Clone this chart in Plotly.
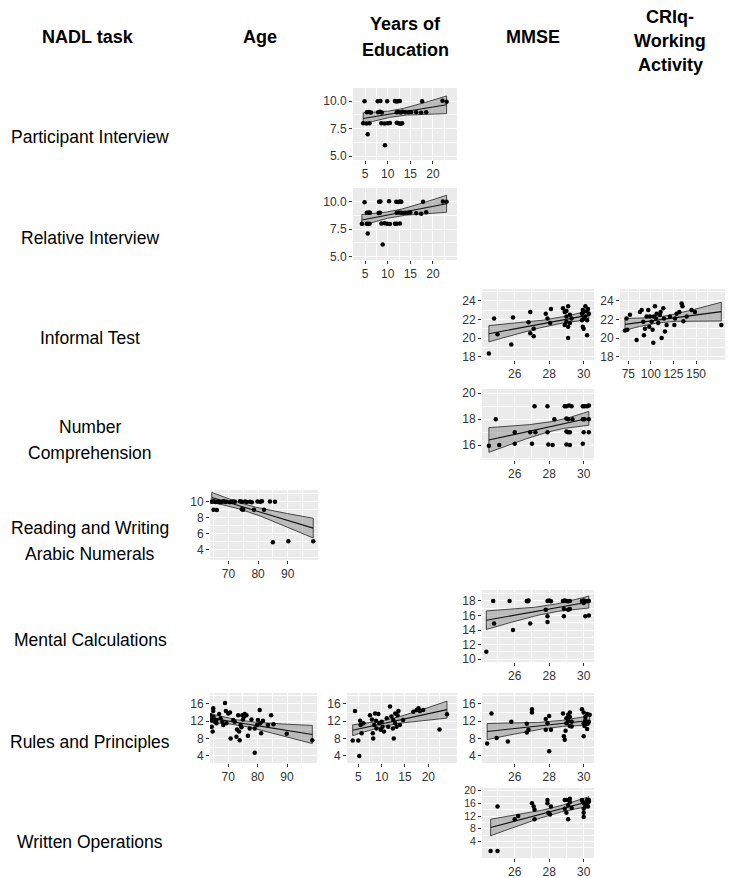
import numpy as np
import plotly.graph_objects as go

W, H = 733, 878
PAGE_OFFSET = 8  # default body margin of the html page

# Column headers and row labels
col_headers = ["NADL task", "Age", "Years of<br>Education", "MMSE", "CRIq-<br>Working<br>Activity"]
row_labels = ["Participant Interview", "Relative Interview", "Informal Test",
              "Number<br>Comprehension", "Reading and Writing<br>Arabic Numerals",
              "Mental Calculations", "Rules and Principles", "Written Operations"]

# Tick values
edu_ticks = [5, 10, 15, 20]
mmse_ticks = [26, 28, 30]
age_ticks = [70, 80, 90]
criq_ticks = [75, 100, 125, 150]

# Participant Interview vs Years of Education
part_edu_x = [4.9, 7.8, 8.4, 9.9, 11.6, 11.9, 12.3, 12.7, 17.6, 22.1, 23.0,
              5.4, 5.9, 6.3, 7.9, 8.3, 8.7, 12.0, 12.4, 12.9, 13.3, 13.9, 14.6, 15.2, 16.3, 17.4, 18.5,
              4.6, 5.3, 6.0, 8.6, 9.3, 10.0, 10.5, 12.0, 12.4, 12.8, 13.2,
              5.6, 9.4]
part_edu_y = [10.0, 10.0, 10.02, 10.0, 10.02, 9.98, 10.0, 10.02, 10.0, 10.05, 9.95,
              9.0, 9.02, 8.98, 9.0, 9.05, 8.98, 9.0, 9.02, 8.98, 9.05, 9.0, 9.0, 9.02, 9.0, 8.95, 9.0,
              8.0, 7.98, 8.0, 8.0, 7.98, 8.0, 8.02, 8.05, 8.0, 7.95, 8.0,
              7.0, 6.0]

# Relative Interview vs Years of Education
rel_edu_x = [4.9, 8.1, 8.4, 10.3, 11.9, 12.3, 12.7, 13.0, 17.8, 22.2, 23.0,
             5.4, 5.8, 6.1, 8.0, 8.3, 12.0, 12.5, 13.0, 13.4, 13.9, 14.5, 15.0, 16.3, 17.4, 18.5,
             4.3, 5.4, 5.7, 6.0, 8.6, 9.3, 9.9, 10.5, 11.6, 12.0, 12.7,
             5.6, 8.9]
rel_edu_y = [9.95, 10.0, 10.02, 10.05, 10.0, 9.98, 10.02, 10.0, 10.0, 10.02, 10.0,
             9.0, 9.02, 9.0, 8.98, 9.0, 9.0, 9.02, 9.0, 8.98, 9.0, 9.0, 9.02, 8.95, 8.9, 9.05,
             8.0, 8.0, 7.98, 8.0, 8.02, 8.05, 8.0, 7.98, 8.0, 8.0, 8.02,
             7.1, 6.1]

# Informal Test vs MMSE
inf_mmse_x = [24.5, 24.8, 25.0, 25.8, 25.9, 26.9, 26.8, 26.9, 27.1, 27.1, 27.8, 27.9, 28.05, 28.1,
              28.8, 28.9, 29.0, 29.0, 28.9, 29.1, 29.1, 29.1, 29.2, 29.3, 29.0, 29.2,
              29.9, 29.95, 30.0, 30.0, 29.95, 30.1, 30.2, 30.2, 30.25, 30.3, 30.1, 30.0, 29.9, 30.2]
inf_mmse_y = [18.35, 22.1, 20.4, 19.3, 22.2, 22.8, 21.7, 20.5, 20.2, 21.0, 22.6, 22.1, 21.6, 23.1,
              23.2, 22.8, 22.3, 21.75, 21.4, 21.2, 20.0, 23.4, 22.5, 22.1, 22.9, 21.6,
              22.6, 23.0, 22.1, 21.0, 21.2, 23.4, 21.9, 20.3, 23.1, 22.6, 22.3, 22.8, 21.9, 22.9]

# Informal Test vs CRIq - Working Activity
inf_criq_x = [71.3, 73.9, 73.0, 76.8, 84.2, 87.9, 89.8, 91.6, 92.3, 93.5, 95.3, 97.1, 98.2, 99.0,
              100.8, 101.9, 102.7, 103.4, 104.5, 105.6, 106.4, 108.2, 110.0, 110.8, 111.9, 113.7,
              114.5, 115.6, 117.4, 121.1, 126.0, 126.7, 128.5, 131.5, 134.0, 135.0, 136.0, 139.6,
              145.0, 148.8, 178.0]
inf_criq_y = [20.8, 20.9, 22.1, 22.5, 19.8, 22.8, 23.0, 21.75, 20.3, 21.0, 22.3, 23.0, 21.2, 22.3,
              21.75, 20.9, 19.5, 22.3, 23.4, 22.1, 22.6, 21.6, 22.5, 22.8, 20.0, 23.2,
              22.1, 20.7, 21.4, 22.3, 21.4, 22.1, 22.6, 22.8, 23.7, 23.4, 21.8, 22.3,
              23.0, 22.8, 21.4]

# Number Comprehension vs MMSE
num_mmse_x = [24.5, 24.9, 25.1, 26.0, 26.0, 26.9, 27.0, 27.15, 27.2, 27.9, 27.9, 27.95, 28.2, 28.3,
              28.9, 29.0, 29.15, 29.3, 29.0, 29.1, 29.0, 29.1, 29.2, 29.0, 29.2, 29.35,
              29.95, 30.05, 30.2, 30.3, 29.95, 30.05, 30.0, 29.95, 30.3, 30.3]
num_mmse_y = [15.95, 18.0, 16.0, 17.0, 16.1, 17.0, 16.1, 19.0, 17.0, 19.0, 17.0, 16.05, 16.0, 18.0,
              19.0, 19.0, 19.05, 19.0, 18.05, 18.0, 17.05, 17.0, 17.0, 16.05, 16.0, 18.0,
              19.0, 19.0, 19.0, 19.05, 18.0, 18.0, 17.0, 16.1, 18.0, 17.0]

# Reading and Writing Arabic Numerals vs Age
read_age_x = [64.4, 65.0, 65.6, 66.2, 66.7, 67.2, 67.8, 68.4, 69.0, 69.4, 70.5, 71.1, 71.7, 72.2,
              73.9, 74.5, 75.6, 76.2, 77.3, 77.9, 79.8, 80.7, 81.3, 84.0, 85.7,
              65.0, 66.1, 74.5, 75.0, 78.6, 82.0, 85.0, 90.2, 98.6]
read_age_y = [10.0, 10.05, 9.98, 10.0, 10.02, 9.95, 10.0, 10.05, 9.98, 10.0, 9.95, 10.0, 10.02, 10.0,
              10.05, 10.0, 10.02, 9.98, 10.0, 9.95, 10.02, 10.0, 10.05, 10.02, 10.0,
              9.0, 8.95, 9.05, 8.98, 9.0, 9.0, 4.9, 5.0, 5.0]

# Mental Calculations vs MMSE
ment_mmse_x = [24.35, 24.8, 24.75, 25.7, 25.9, 26.7, 26.75, 26.8, 26.9, 27.8, 27.9, 27.9,
               27.9, 28.0, 28.1, 28.8, 28.9, 29.0, 29.1, 29.2, 28.85, 28.85, 29.1, 29.2,
               29.9, 30.0, 30.1, 30.2, 30.3, 30.1, 30.3, 30.0]
ment_mmse_y = [11.0, 14.9, 18.0, 18.0, 14.0, 18.0, 17.95, 18.05, 14.9, 16.8, 15.9, 15.1,
               18.0, 18.05, 17.95, 18.0, 18.05, 18.0, 17.95, 18.0, 16.9, 15.9, 16.8, 16.9,
               18.0, 18.05, 18.0, 17.95, 18.0, 15.9, 16.0, 17.7]

# Rules and Principles vs Age
rules_age_x = [64.0, 64.4, 64.4, 64.7, 64.9, 64.9, 65.0, 65.5, 66.0, 66.0, 66.9, 67.4, 68.0, 68.3,
               68.9, 69.2, 69.4, 70.0, 70.6, 70.8, 71.7, 72.2, 72.8, 73.0, 73.4, 73.7, 73.9,
               74.2, 74.5, 74.8, 75.0, 75.3, 75.6, 76.2, 76.7, 77.3, 77.9, 79.0, 79.0, 79.8,
               80.1, 80.7, 80.9, 81.2, 81.8, 83.5, 84.6, 85.4, 89.9, 98.6]
rules_age_y = [13.4, 12.3, 10.7, 9.6, 15.0, 14.4, 13.0, 11.9, 12.3, 11.5, 13.7, 12.7, 11.9, 11.1,
               16.2, 14.4, 11.5, 13.8, 14.0, 8.0, 12.3, 11.9, 8.4, 10.1, 13.4, 9.6, 7.6,
               11.1, 10.6, 13.4, 12.4, 13.0, 13.7, 13.4, 8.6, 10.3, 12.4, 4.7, 10.3, 11.1,
               12.3, 14.6, 11.5, 9.2, 12.1, 11.1, 13.4, 11.3, 9.1, 7.6]

# Rules and Principles vs Years of Education
rules_edu_x = [3.8, 4.3, 5.0, 5.2, 5.4, 5.5, 5.7, 6.1, 7.5, 7.9, 8.1, 8.2, 8.4, 8.6, 8.8, 8.9,
               9.3, 9.5, 9.8, 10.0, 10.2, 10.5, 11.1, 11.4, 11.8, 12.1, 12.4, 12.5, 12.6, 12.9,
               12.9, 13.2, 13.4, 13.6, 13.9, 14.6, 16.8, 17.5, 17.9, 18.2, 18.9, 22.4, 24.0]
rules_edu_y = [7.5, 14.4, 7.5, 3.9, 12.1, 11.1, 9.2, 11.5, 13.4, 12.4, 9.2, 8.0, 11.1, 13.8, 12.1, 10.3,
               13.7, 11.5, 10.0, 11.9, 10.7, 9.6, 12.7, 10.7, 15.4, 13.1, 10.3, 12.3, 8.0, 11.5,
               13.8, 10.7, 13.4, 14.4, 11.1, 12.3, 14.2, 14.6, 15.0, 14.4, 14.6, 10.1, 13.6]

# Rules and Principles vs MMSE
rules_mmse_x = [24.4, 24.65, 24.95, 25.6, 25.8, 26.7, 26.7, 26.8, 27.0, 27.0, 27.8, 27.8, 27.9,
                28.0, 28.0, 28.1, 28.8, 28.85, 28.9, 28.95, 29.0, 29.1, 29.2, 29.1, 29.2, 29.2,
                29.3, 29.3, 29.0, 29.9, 30.0, 30.1, 30.2, 30.0, 30.05, 30.1, 30.2, 30.0, 30.2,
                30.3, 30.35]
rules_mmse_y = [6.8, 13.8, 8.1, 7.3, 11.9, 11.4, 9.4, 10.0, 14.8, 14.0, 12.5, 10.0, 11.5,
                13.2, 5.0, 10.0, 13.8, 8.5, 7.7, 9.8, 11.5, 12.3, 10.9, 13.5, 14.0, 13.0,
                10.8, 11.9, 12.7, 14.8, 14.0, 13.0, 13.7, 11.5, 10.9, 12.2, 11.4, 8.5, 10.2,
                11.9, 13.5]

# Written Operations vs MMSE
writ_mmse_x = [24.6, 25.0, 25.0, 26.0, 26.2, 27.0, 27.1, 27.15, 27.15, 27.9, 27.9, 27.95, 28.05,
               28.1, 28.9, 29.0, 28.9, 29.0, 29.1, 29.1, 29.2, 29.2, 29.3, 29.9, 29.95, 30.0,
               30.0, 30.0, 30.0, 30.1, 30.2, 30.2, 30.25, 30.3, 30.3]
writ_mmse_y = [1.0, 1.0, 15.0, 11.0, 12.0, 16.0, 15.0, 14.0, 11.0, 17.0, 16.0, 13.0, 12.5,
               15.0, 17.0, 17.0, 14.3, 13.0, 11.0, 15.4, 16.4, 17.4, 14.5, 17.0, 16.4, 16.0,
               14.3, 13.0, 11.7, 15.0, 17.0, 16.0, 15.0, 16.5, 17.0]


def to_px_x(px):
    return (px - PAGE_OFFSET) / W


def to_px_y(py):
    return 1 - (py - PAGE_OFFSET) / H


def fit_band(x, y):
    x = np.asarray(x, float)
    y = np.asarray(y, float)
    b, a = np.polyfit(x, y, 1)
    xs = np.linspace(x.min(), x.max(), 80)
    yh = a + b * xs
    n = len(x)
    s = np.sqrt(((y - (a + b * x)) ** 2).sum() / (n - 2))
    se = s * np.sqrt(1 / n + (xs - x.mean()) ** 2 / ((x - x.mean()) ** 2).sum())
    t = 2.01
    return xs, yh, yh - t * se, yh + t * se


def minor_vals(ticks, rng):
    step = ticks[1] - ticks[0]
    vals = [ticks[0] - step / 2] + [t + step / 2 for t in ticks]
    return [v for v in vals if rng[0] <= v <= rng[1]]


mmse_rng = (24.1, 30.6)
age_rng = (63.8, 100.2)

# box = (left px, right px, top px, bottom px) of the grey panel
panels = [
    dict(x=part_edu_x, y=part_edu_y, box=(353, 457, 88, 160), xr=(2.35, 25.3), yr=(4.65, 11.2),
         xt=edu_ticks, yt=[5, 7.5, 10], ytt=["5.0", "7.5", "10.0"]),
    dict(x=rel_edu_x, y=rel_edu_y, box=(353, 457, 188, 260), xr=(2.35, 25.3), yr=(4.7, 11.25),
         xt=edu_ticks, yt=[5, 7.5, 10], ytt=["5.0", "7.5", "10.0"]),
    dict(x=inf_mmse_x, y=inf_mmse_y, box=(482, 594, 289, 360), xr=mmse_rng, yr=(17.65, 25.25),
         xt=mmse_ticks, yt=[18, 20, 22, 24]),
    dict(x=inf_criq_x, y=inf_criq_y, box=(620, 726, 289, 360), xr=(65.8, 183.2), yr=(17.65, 25.25),
         xt=criq_ticks, yt=[18, 20, 22, 24]),
    dict(x=num_mmse_x, y=num_mmse_y, box=(482, 594, 389, 460), xr=mmse_rng, yr=(14.85, 20.33),
         xt=mmse_ticks, yt=[16, 18, 20]),
    dict(x=read_age_x, y=read_age_y, box=(210, 318, 490, 560), xr=age_rng, yr=(2.65, 11.48),
         xt=age_ticks, yt=[4, 6, 8, 10]),
    dict(x=ment_mmse_x, y=ment_mmse_y, box=(482, 594, 590, 662), xr=mmse_rng, yr=(9.6, 19.5),
         xt=mmse_ticks, yt=[10, 12, 14, 16, 18]),
    dict(x=rules_age_x, y=rules_age_y, box=(210, 317, 693, 763), xr=age_rng, yr=(2.3, 18.55),
         xt=age_ticks, yt=[4, 8, 12, 16]),
    dict(x=rules_edu_x, y=rules_edu_y, box=(347, 457, 693, 763), xr=(2.58, 26.15), yr=(2.3, 18.55),
         xt=edu_ticks, yt=[4, 8, 12, 16]),
    dict(x=rules_mmse_x, y=rules_mmse_y, box=(482, 594, 693, 763), xr=mmse_rng, yr=(2.3, 18.55),
         xt=mmse_ticks, yt=[4, 8, 12, 16]),
    dict(x=writ_mmse_x, y=writ_mmse_y, box=(482, 594, 788, 858), xr=mmse_rng, yr=(-1.2, 20.8),
         xt=mmse_ticks, yt=[4, 8, 12, 16, 20], ysize=10.5),
]

fig = go.Figure()

for i, p in enumerate(panels, start=1):
    xa = "x" if i == 1 else f"x{i}"
    ya = "y" if i == 1 else f"y{i}"
    xs, yh, lo, hi = fit_band(p["x"], p["y"])

    # confidence band with dark outline
    fig.add_trace(go.Scatter(
        x=np.concatenate([xs, xs[::-1], xs[:1]]), y=np.concatenate([hi, lo[::-1], hi[:1]]),
        mode="lines", fill="toself", fillcolor="rgba(153,153,153,0.6)",
        line=dict(color="#222222", width=0.8), xaxis=xa, yaxis=ya,
        hoverinfo="skip", showlegend=False))
    fig.add_trace(go.Scatter(x=xs, y=yh, mode="lines", line=dict(color="#111111", width=1.1),
                             xaxis=xa, yaxis=ya, hoverinfo="skip", showlegend=False))
    fig.add_trace(go.Scatter(x=p["x"], y=p["y"], mode="markers",
                             marker=dict(color="black", size=4.5), xaxis=xa, yaxis=ya,
                             showlegend=False))

    l, r, t, b = p["box"]
    common = dict(showgrid=True, gridcolor="white", gridwidth=1, zeroline=False, showline=False,
                  ticks="outside", ticklen=3, tickwidth=1, tickcolor="#333333",
                  fixedrange=True, automargin=False)
    tick_font = dict(family="Liberation Sans, Arial, sans-serif", size=12, color="#333333")
    ytick_font = dict(tick_font, size=p.get("ysize", 12))
    xkey = "xaxis" if i == 1 else f"xaxis{i}"
    ykey = "yaxis" if i == 1 else f"yaxis{i}"
    fig.update_layout({
        xkey: dict(common, domain=[to_px_x(l), to_px_x(r)], range=list(p["xr"]), anchor=ya,
                   tickvals=p["xt"], tickfont=tick_font,
                   minor=dict(tickvals=minor_vals(p["xt"], p["xr"]), showgrid=True,
                              gridcolor="white", gridwidth=0.5)),
        ykey: dict(common, domain=[to_px_y(b), to_px_y(t)], range=list(p["yr"]), anchor=xa,
                   tickvals=p["yt"], ticktext=p.get("ytt"), tickfont=ytick_font,
                   minor=dict(tickvals=minor_vals(p["yt"], p["yr"]), showgrid=True,
                              gridcolor="white", gridwidth=0.5)),
    })


def add_label(annotations, text, cx, cy, font, gap=26):
    lines = text.split("<br>")
    top = cy - gap * (len(lines) - 1) / 2
    for k, line in enumerate(lines):
        annotations.append(dict(text=line, x=to_px_x(cx), y=to_px_y(top + k * gap),
                                xref="paper", yref="paper", xanchor="center", yanchor="middle",
                                showarrow=False, font=font, align="center"))


annotations = []
head_font = dict(family="Liberation Sans Narrow, Arial Narrow, Liberation Sans, Arial", size=18,
                 color="black")
# (centre x, centre y, line gap) in px
head_pos = [(88, 37, 26), (260, 37, 26), (405, 37, 26), (533, 37, 26), (670, 41, 24)]
for text, (hx, hy, gap) in zip(col_headers, head_pos):
    bold = "<br>".join(f"<b>{s}</b>" for s in text.split("<br>"))
    add_label(annotations, bold, hx, hy, head_font, gap)

row_font = dict(family="Liberation Sans, Arial, sans-serif", size=17.5, color="black")
row_pos = [137, 238, 338, 440, 541, 640, 742, 842]
for text, ry in zip(row_labels, row_pos):
    add_label(annotations, text, 90, ry, row_font)

fig.update_layout(width=W, height=H, margin=dict(l=0, r=0, t=0, b=0, autoexpand=False),
                  paper_bgcolor="white", plot_bgcolor="#EBEBEB",
                  annotations=annotations, showlegend=False)

fig.write_html("out.html")
